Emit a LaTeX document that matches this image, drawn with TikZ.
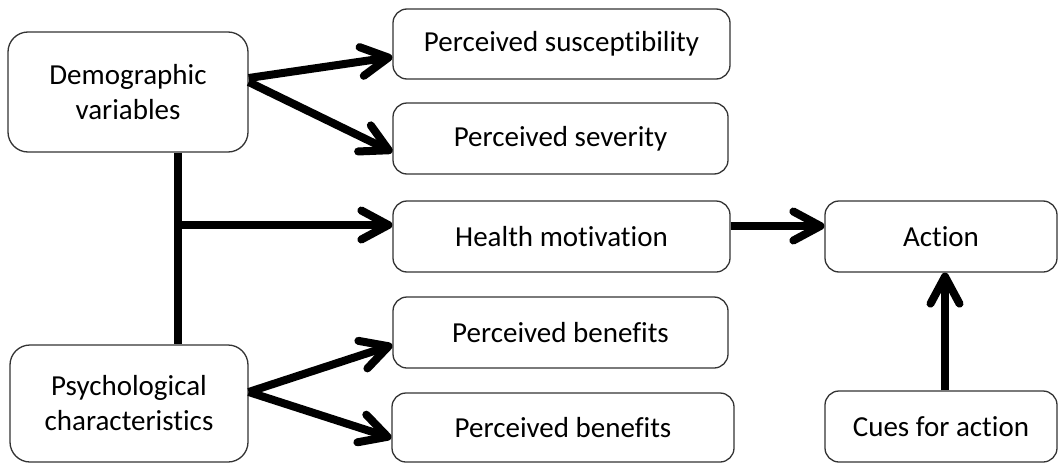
\documentclass[tikz,border=0pt]{standalone}
\usepackage{fontspec}
\setmainfont[Ligatures=NoCommon]{Carlito}
\usetikzlibrary{arrows.meta}
\begin{document}
\begin{tikzpicture}[x=1pt,y=-1pt,
  box/.style={draw=black!80, line width=1.3pt, rounded corners=14pt,
    align=center, inner sep=0pt, font=\fontsize{29}{35}\selectfont},
  bigbox/.style={box, rounded corners=20pt},
  arr/.style={line width=8pt, -{Straight Barb[length=27pt,width=29pt,round]}},
  link/.style={line width=8pt}]
\useasboundingbox (0,0) rectangle (1059,463);

% left column
\node[bigbox, minimum width=240pt, minimum height=120pt] (demo) at (128,92) {Demographic\\variables};
\node[bigbox, minimum width=238pt, minimum height=117pt] (psych) at (129,403.5) {Psychological\\characteristics};

% middle column
\node[box, minimum width=337pt, minimum height=70pt] (susc) at (561.5,44) {Perceived susceptibility};
\node[box, minimum width=335pt, minimum height=71pt] (sev) at (560.5,138.5) {Perceived severity};
\node[box, minimum width=337pt, minimum height=71pt] (health) at (561.5,236.5) {Health motivation};
\node[box, minimum width=335pt, minimum height=71pt] (ben1) at (560.5,332.5) {Perceived benefits};
\node[box, minimum width=342pt, minimum height=69pt] (ben2) at (563,427.5) {Perceived benefits};

% right column
\node[box, minimum width=232pt, minimum height=71pt] (action) at (941,236.5) {Action};
\node[box, minimum width=232pt, minimum height=71pt] (cues) at (941,426.5) {Cues for action};

% connectors
\draw[arr] ([yshift=14pt]demo.east) -- ([yshift=-13pt]susc.west);
\draw[arr] ([yshift=10pt]demo.east) -- ([yshift=-13.5pt]sev.west);

\draw[link] ([xshift=50pt]demo.south) -- ([xshift=50pt]demo.south |- psych.north);
\coordinate (j) at ([xshift=50pt]demo.south |- 0,225);
\draw[arr] ([xshift=-4pt]j) -- (j -| health.west);

\draw[arr] ([yshift=11.5pt]psych.east) -- ([yshift=-12.5pt]ben1.west);
\draw[arr] ([yshift=11.5pt]psych.east) -- ([yshift=-10.5pt]ben2.west);

\draw[arr] ([yshift=10.5pt]health.east) -- ([yshift=10.5pt]health.east -| action.west);
\draw[arr] ([xshift=4pt]cues.north) -- ([xshift=4pt]action.south);
\end{tikzpicture}
\end{document}
